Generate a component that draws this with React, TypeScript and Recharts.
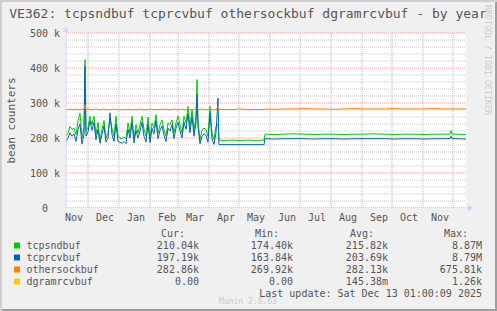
import React from 'react';
import { LineChart, Line, XAxis, YAxis, CartesianGrid, ReferenceLine } from 'recharts';

// day 0 = 9 Nov 2024, one unit = one day (400-day "year" graph)
const days = [
  0, 2, 4, 6, 8, 10, 12, 14, 16, 18,
  19,
  20, 22, 24, 26, 28, 30, 32, 34, 36, 38,
  40, 42, 44, 46, 48, 50, 52, 54, 56, 58,
  60, 62, 64, 66, 68, 70, 72, 74, 76, 78,
  80, 82, 84, 86, 88, 90, 92, 94, 96, 98,
  100, 102, 104, 106, 108, 110, 112, 114, 116, 118,
  120, 122, 124, 126, 128, 130,
  131,
  132, 134, 136, 138, 140, 142, 144, 146, 148, 150, 152,
  153, 158, 166, 174, 182, 190, 198,
  199, 208, 218, 228, 238, 248, 258, 268, 278, 288,
  298, 308, 318, 328, 338, 348, 358, 368, 378,
  384, 385, 386, 390, 400,
];

// values in thousands
const tcpsndbuf = [
  205, 215, 233, 224, 228, 210, 250, 271, 200, 230,
  424,
  222, 230, 262, 238, 262, 210, 245, 195, 225, 250,
  200, 214, 255, 228, 205, 262, 205, 200, 198, 202,
  198, 243, 214, 262, 200, 238, 214, 238, 262, 224,
  205, 260, 200, 243, 228, 267, 214, 238, 252, 224,
  205, 243, 238, 252, 214, 243, 262, 238, 214, 262,
  243, 290, 233, 281, 224, 260,
  367,
  250, 195, 224, 228, 224, 205, 290, 214, 195, 233, 240,
  194, 193, 194, 193, 194, 193, 194,
  211, 210, 211, 212, 211, 210, 211, 211, 210, 211,
  211, 212, 211, 210, 211, 211, 210, 211, 211,
  211, 221, 211, 211, 210,
];

const tcprcvbuf = [
  190, 200, 215, 205, 212, 190, 225, 240, 183, 210,
  405,
  205, 218, 250, 222, 245, 195, 225, 185, 210, 235,
  188, 200, 272, 210, 190, 240, 190, 188, 185, 190,
  184, 225, 200, 245, 186, 222, 200, 220, 245, 205,
  188, 240, 187, 228, 212, 250, 198, 222, 235, 208,
  190, 228, 220, 238, 198, 228, 245, 220, 200, 245,
  225, 270, 215, 262, 205, 245,
  324,
  232, 183, 205, 212, 208, 188, 272, 198, 182, 215, 314,
  181, 181, 181, 181, 181, 181, 181,
  198, 197, 198, 198, 198, 197, 198, 198, 197, 198,
  198, 198, 198, 197, 198, 198, 197, 198, 198,
  198, 205, 198, 198, 197,
];

const othersockbuf = [
  281, 281, 283, 281, 281, 283, 281, 281, 283, 281,
  295,
  281, 283, 281, 281, 281, 283, 281, 281, 281, 283,
  281, 281, 281, 281, 283, 281, 281, 281, 281, 281,
  281, 283, 281, 281, 281, 281, 281, 283, 281, 281,
  281, 281, 283, 281, 281, 281, 281, 281, 283, 281,
  283, 281, 281, 281, 283, 281, 281, 281, 283, 281,
  281, 283, 281, 281, 283, 281,
  284,
  281, 281, 283, 281, 281, 281, 283, 281, 281, 281, 290,
  281, 282, 281, 283, 281, 282, 281,
  283, 282, 283, 283, 284, 283, 283, 282, 283, 284,
  283, 283, 283, 284, 283, 283, 283, 284, 283,
  283, 284, 283, 283, 283,
];

const dgramrcvbuf = days.map(() => 0);

const monthStartDays = [22, 53, 84, 112, 143, 173, 204, 234, 265, 296, 326, 357, 387];
const monthLabelDays = [8, 39, 70, 101, 129, 160, 190, 221, 251, 282, 313, 343, 374];
const monthLabels = ['Nov', 'Dec', 'Jan', 'Feb', 'Mar', 'Apr', 'May', 'Jun', 'Jul', 'Aug', 'Sep', 'Oct', 'Nov'];

const yTickValues = [0, 100, 200, 300, 400, 500];
const yTickLabels = ['0', '100 k', '200 k', '300 k', '400 k', '500 k'];
const yMajor = [100, 200, 300, 400, 500];
const yMinor = [20, 40, 60, 80, 120, 140, 160, 180, 220, 240, 260, 280, 320, 340, 360, 380, 420, 440, 460, 480];

const seriesNames = ['tcpsndbuf', 'tcprcvbuf', 'othersockbuf', 'dgramrcvbuf'];
const seriesColors = ['#00cc00', '#0066b3', '#ff8000', '#ffcc00'];
const curValues = ['210.04k', '197.19k', '282.86k', '0.00'];
const minValues = ['174.40k', '163.84k', '269.92k', '0.00'];
const avgValues = ['215.82k', '203.69k', '282.13k', '145.38m'];
const maxValues = ['8.87M', '8.79M', '675.81k', '1.26k'];

const data = days.map((d, i) => ({
  day: d,
  tcpsndbuf: tcpsndbuf[i],
  tcprcvbuf: tcprcvbuf[i],
  othersockbuf: othersockbuf[i],
  dgramrcvbuf: dgramrcvbuf[i],
}));

const FONT = '"DejaVu Sans Mono", monospace';
const TEXT = '#555555';
const AXIS = '#cfd6f8';

const XTick = (props: any) => {
  const { x, y, index } = props;
  return (
    <text x={x} y={y + 12.5} textAnchor="middle" fontFamily={FONT} fontSize={10} fill={TEXT}>
      {monthLabels[index]}
    </text>
  );
};

const YTick = (props: any) => {
  const { x, y, index } = props;
  const label = yTickLabels[index];
  const shift = label.indexOf('k') >= 0 ? 6 : 18;
  return (
    <text x={x - shift} y={y + 3.5} textAnchor="end" fontFamily={FONT} fontSize={10} fill={TEXT}>
      {label}
    </text>
  );
};

const colEnds = [199, 293, 388, 482];
const headers = ['Cur:', 'Min:', 'Avg:', 'Max:'];

export default function App() {
  return (
    <div
      style={{
        position: 'absolute',
        left: 0,
        top: 0,
        width: 497,
        height: 311,
        background: '#f0f0f0',
        boxShadow: 'inset 2px 2px 0 #cfcfcf, inset -2px -2px 0 #9e9e9e',
        overflow: 'hidden',
      }}
    >
      <LineChart
        width={497}
        height={311}
        data={data}
        margin={{ top: 33, right: 31, bottom: 0, left: 0 }}
      >
        <CartesianGrid fill="#ffffff" stroke="none" horizontal={false} vertical={false} />
        {yMinor.map((v) => (
          <ReferenceLine key={'mi' + v} y={v} stroke="#c8c8c8" strokeDasharray="1 1" strokeWidth={1} />
        ))}
        {yMajor.map((v) => (
          <ReferenceLine key={'ma' + v} y={v} stroke="#f09a9a" strokeDasharray="1 1" strokeWidth={1} />
        ))}
        {monthStartDays.map((d) => (
          <ReferenceLine key={'m' + d} x={d} stroke="#f09a9a" strokeDasharray="1 1" strokeWidth={1} />
        ))}
        <XAxis
          dataKey="day"
          type="number"
          domain={[0, 400]}
          ticks={monthLabelDays}
          interval={0}
          tick={<XTick />}
          tickLine={false}
          axisLine={false}
          tickSize={0}
          tickMargin={0}
          height={103}
          allowDataOverflow
        />
        <YAxis
          type="number"
          domain={[0, 500]}
          ticks={yTickValues}
          interval={0}
          tick={<YTick />}
          tickLine={false}
          axisLine={{ stroke: AXIS, strokeWidth: 1 }}
          tickSize={0}
          tickMargin={0}
          width={66}
          allowDataOverflow
        />
        <Line dataKey="tcpsndbuf" stroke={seriesColors[0]} strokeWidth={1} dot={false} isAnimationActive={false} />
        <Line dataKey="tcprcvbuf" stroke={seriesColors[1]} strokeWidth={1} dot={false} isAnimationActive={false} />
        <Line dataKey="othersockbuf" stroke={seriesColors[2]} strokeWidth={1} dot={false} isAnimationActive={false} />
        <Line dataKey="dgramrcvbuf" stroke={seriesColors[3]} strokeWidth={1} dot={false} isAnimationActive={false} />
      </LineChart>
      <svg
        width={497}
        height={311}
        style={{ position: 'absolute', left: 0, top: 0, pointerEvents: 'none' }}
      >
        <text x={248} y={18} textAnchor="middle" fontFamily={FONT} fontSize={13} fill={TEXT}>
          VE362: tcpsndbuf tcprcvbuf othersockbuf dgramrcvbuf - by year
        </text>
        <text
          transform="translate(15,120.5) rotate(-90)"
          textAnchor="middle"
          fontFamily={FONT}
          fontSize={11}
          fill={TEXT}
        >
          bean counters
        </text>
        <text
          transform="translate(485,5) rotate(90)"
          textAnchor="start"
          fontFamily={FONT}
          fontSize={8.3}
          fill="#cccccc"
        >
          RRDTOOL / TOBI OETIKER
        </text>
        {/* axis arrows */}
        <line x1={66} y1={27} x2={66} y2={33} stroke={AXIS} strokeWidth={1} />
        <polygon points="63,32 69,32 66,26" fill={AXIS} />
        <line x1={466} y1={208} x2={469} y2={208} stroke={AXIS} strokeWidth={1} />
        <polygon points="468,205 468,211 474,208" fill={AXIS} />
        {headers.map((h, i) => (
          <text key={h} x={colEnds[i] - 14} y={237} textAnchor="end" fontFamily={FONT} fontSize={10} fill={TEXT}>
            {h}
          </text>
        ))}
        {seriesNames.map((n, i) => {
          const cy = 245.5 + i * 12;
          return (
            <g key={n}>
              <rect x={14} y={cy - 3} width={6} height={6} fill={seriesColors[i]} />
              <text x={26.5} y={cy + 3.5} fontFamily={FONT} fontSize={10} fill={TEXT}>
                {n}
              </text>
              {[curValues[i], minValues[i], avgValues[i], maxValues[i]].map((v, j) => (
                <text key={j} x={colEnds[j]} y={cy + 3.5} textAnchor="end" fontFamily={FONT} fontSize={10} fill={TEXT}>
                  {v}
                </text>
              ))}
            </g>
          );
        })}
        <text x={482} y={296.5} textAnchor="end" fontFamily={FONT} fontSize={10} fill={TEXT}>
          Last update: Sat Dec 13 01:00:09 2025
        </text>
        <text x={248} y={303.5} textAnchor="middle" fontFamily={FONT} fontSize={8} fill="#cccccc">
          Munin 2.0.63
        </text>
      </svg>
    </div>
  );
}
